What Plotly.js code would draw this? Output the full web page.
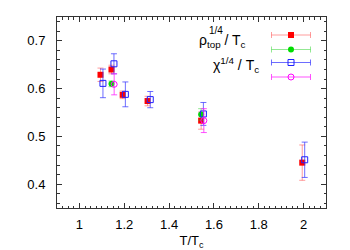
<!DOCTYPE html>
<html>
<head>
<meta charset="utf-8">
<script src="https://cdn.plot.ly/plotly-3.0.1.min.js"></script>
<style>html,body{margin:0;padding:0;background:#fff;}#chart{width:350px;height:250px;}</style>
</head>
<body>
<div id="chart"></div>
<script>
// rho_top^{1/4}/T_c (red filled squares)
var rhoX   = [1.094, 1.143, 1.193, 1.304, 1.543, 1.994];
var rhoY   = [0.629, 0.640, 0.587, 0.574, 0.533, 0.445];
var rhoErr = [0.014, 0.009, 0.008, 0.010, 0.018, 0.037];
// second rho set (green filled circles)
var grnX   = [1.143, 1.543];
var grnY   = [0.610, 0.546];
var grnErr = [0.006, 0.012];
// chi^{1/4}/T_c (blue open squares)
var chiX   = [1.105, 1.154, 1.205, 1.316, 1.553, 2.005];
var chiY   = [0.611, 0.652, 0.588, 0.577, 0.547, 0.451];
var chiErr = [0.030, 0.021, 0.026, 0.017, 0.024, 0.037];
// second chi set (magenta open circles)
var magX   = [1.155, 1.555];
var magY   = [0.609, 0.533];
var magErr = [0.022, 0.025];

var xTicks = [1, 1.2, 1.4, 1.6, 1.8, 2];
var yTicks = [0.4, 0.5, 0.6, 0.7];

var styles = [
  {sym:'square', col:'#ff0000', bar:'rgba(255,60,60,0.5)', lw:0},
  {sym:'circle', col:'#00dd00', bar:'rgba(40,210,40,0.5)', lw:0},
  {sym:'square-open', col:'#2020ff', bar:'rgba(60,60,255,0.75)', lw:1},
  {sym:'circle-open', col:'#ff00ff', bar:'rgba(255,40,255,0.8)', lw:1}
];
var sets = [[rhoX,rhoY,rhoErr],[grnX,grnY,grnErr],[chiX,chiY,chiErr],[magX,magY,magErr]];

var traces = [];
sets.forEach(function(s,i){
  var st = styles[i];
  traces.push({
    x:s[0], y:s[1], type:'scatter', mode:'markers', showlegend:false,
    marker:{symbol:st.sym, size:6, color:st.col, line:{width:st.lw, color:st.col}},
    error_y:{type:'data', array:s[2], visible:true, color:st.bar, thickness:1, width:3}
  });
});

// legend keys on an overlay axis in plot-pixel units
var keyRows = [35, 49.5, 62.5, 77];
keyRows.forEach(function(r,i){
  var st = styles[i];
  traces.push({
    x:[291], y:[r], xaxis:'x2', yaxis:'y2', type:'scatter', mode:'markers', showlegend:false,
    marker:{symbol:st.sym, size:6, color:st.col, line:{width:st.lw, color:st.col}},
    error_x:{type:'constant', value:19.5, visible:true, color:st.bar, thickness:1, width:3}
  });
});

var fnt = {family:'Liberation Sans, Arial, sans-serif', size:13, color:'#000'};
var axBase = {
  showline:true, linecolor:'#333', linewidth:1, mirror:'allticks',
  ticks:'inside', ticklen:5, tickcolor:'#333', showgrid:false, zeroline:false,
  tickfont:fnt
};

var layout = {
  width:350, height:250,
  margin:{l:57, r:24, t:17, b:42},
  paper_bgcolor:'#fff', plot_bgcolor:'#fff',
  font:fnt,
  xaxis:Object.assign({}, axBase, {
    range:[0.9, 2.1], tickvals:xTicks, ticktext:xTicks.map(String),
    minor:{dtick:0.025, ticks:'inside', ticklen:2.5, tickcolor:'#333'},
    ticklabelstandoff:4,
    title:{text:'T/T<sub>c</sub>', font:fnt, standoff:6}
  }),
  yaxis:Object.assign({}, axBase, {
    range:[0.35, 0.75], tickvals:yTicks, ticktext:yTicks.map(String),
    minor:{dtick:0.02, ticks:'inside', ticklen:2.5, tickcolor:'#333'},
    ticklabelstandoff:8
  }),
  xaxis2:{overlaying:'x', range:[57,326], visible:false, fixedrange:true},
  yaxis2:{overlaying:'y', range:[208,17], visible:false, fixedrange:true},
  annotations:[
    {xref:'paper', yref:'paper', x:(248-57)/269, y:(208-41)/191, xanchor:'right', yanchor:'middle',
     text:'ρ<sub>top</sub> / T<sub>c</sub>', showarrow:false, font:{family:fnt.family, size:14, color:'#000'}},
    {xref:'paper', yref:'paper', x:(207-57)/269, y:(208-31)/191, xanchor:'left', yanchor:'middle',
     text:'1/4', showarrow:false, font:{family:fnt.family, size:10, color:'#000'}},
    {xref:'paper', yref:'paper', x:(261-57)/269, y:(208-65)/191, xanchor:'right', yanchor:'middle',
     text:'χ<sup>1/4</sup> / T<sub>c</sub>', showarrow:false, font:{family:fnt.family, size:14, color:'#000'}}
  ]
};

Plotly.newPlot('chart', traces, layout, {staticPlot:true, displayModeBar:false});
</script>
</body>
</html>
